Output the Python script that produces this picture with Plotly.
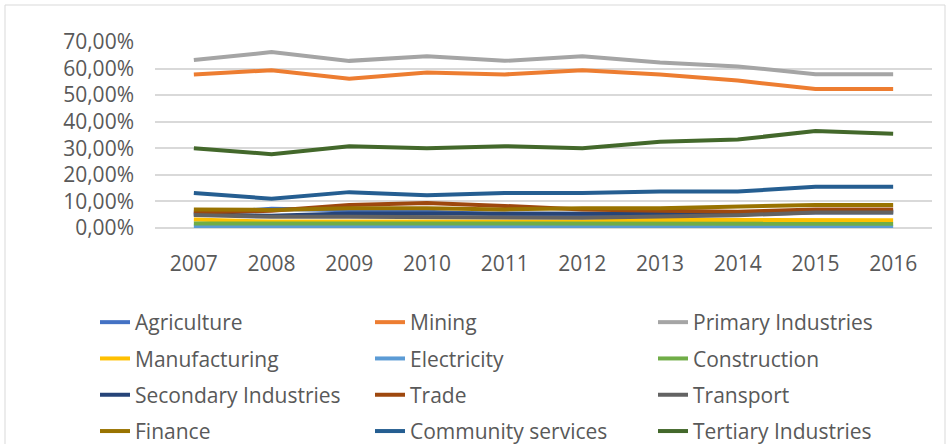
import plotly.graph_objects as go

years = ["2007", "2008", "2009", "2010", "2011", "2012", "2013", "2014", "2015", "2016"]

# Shares in percent
agriculture = [5.4, 7.2, 6.7, 6.1, 5.1, 5.2, 4.5, 5.3, 5.8, 5.8]
mining = [57.8, 59.4, 56.2, 58.5, 57.8, 59.4, 57.8, 55.5, 52.3, 52.3]
primary = [63.2, 66.2, 62.9, 64.6, 62.9, 64.6, 62.3, 60.8, 57.9, 57.9]
manufacturing = [3.2, 2.4, 2.4, 2.4, 2.4, 2.4, 3.1, 3.1, 2.9, 2.9]
electricity = [0.6, 0.5, 0.5, 0.5, 0.5, 0.5, 0.5, 0.5, 0.5, 0.5]
construction = [1.7, 1.7, 1.7, 1.7, 1.7, 1.6, 1.6, 1.6, 1.6, 1.6]
secondary = [5.2, 4.6, 5.5, 5.5, 5.5, 5.4, 5.4, 6.0, 6.2, 6.2]
trade = [5.8, 6.5, 8.7, 9.4, 8.3, 7.0, 6.5, 6.1, 7.0, 7.0]
transport = [4.9, 4.2, 4.2, 4.0, 4.0, 3.9, 4.3, 4.8, 5.8, 5.8]
finance = [7.0, 6.8, 7.4, 7.4, 7.0, 7.4, 7.4, 8.0, 8.7, 8.7]
community = [13.2, 11.0, 13.5, 12.3, 13.2, 13.2, 13.7, 13.7, 15.5, 15.5]
tertiary = [30.0, 27.8, 30.8, 30.0, 30.8, 30.0, 32.5, 33.3, 36.5, 35.5]

# (name, values, colour, legend column)
series = [
    ("Agriculture", agriculture, "#4472C4", "legend"),
    ("Mining", mining, "#ED7D31", "legend2"),
    ("Primary Industries", primary, "#A5A5A5", "legend3"),
    ("Manufacturing", manufacturing, "#FFC000", "legend"),
    ("Electricity", electricity, "#5B9BD5", "legend2"),
    ("Construction", construction, "#70AD47", "legend3"),
    ("Secondary Industries", secondary, "#264478", "legend"),
    ("Trade", trade, "#9E480E", "legend2"),
    ("Transport", transport, "#636363", "legend3"),
    ("Finance", finance, "#997300", "legend"),
    ("Community services", community, "#255E91", "legend2"),
    ("Tertiary Industries", tertiary, "#43682B", "legend3"),
]

W, H = 952, 444
L, R, T, B = 155, 20, 42, 216

fig = go.Figure()
for name, vals, color, leg in series:
    fig.add_trace(go.Scatter(
        x=years, y=[v / 100 for v in vals], name=name, mode="lines",
        line=dict(color=color, width=4),
        legend=leg, legendgroup=name,
    ))

text_color = "#595959"
font_family = "Open Sans"
fsize = 21


def column_legend(x_px):
    return dict(
        orientation="v",
        xref="container", yref="container",
        x=x_px / W, y=1 - 302 / H, xanchor="left", yanchor="top",
        font=dict(family=font_family, color=text_color, size=fsize),
        traceorder="grouped", tracegroupgap=6,
        bgcolor="rgba(0,0,0,0)",
    )


fig.update_layout(
    width=W, height=H,
    margin=dict(l=L, r=R, t=T, b=B, autoexpand=False),
    paper_bgcolor="white", plot_bgcolor="white",
    separators=", ",
    font=dict(family=font_family, color=text_color, size=fsize),
    showlegend=True,
    legend=column_legend(95),
    legend2=column_legend(370),
    legend3=column_legend(653),
    xaxis=dict(
        type="category", range=[-0.5, 9.5],
        showgrid=False, showline=False, zeroline=False,
        ticks="", ticklabelstandoff=21,
        tickfont=dict(size=fsize, color=text_color),
    ),
    yaxis=dict(
        range=[0, 0.70], dtick=0.10, tick0=0, tickformat=".2%",
        showgrid=True, gridcolor="#D9D9D9", gridwidth=1.5,
        zeroline=True, zerolinecolor="#D9D9D9", zerolinewidth=1.5,
        showline=False, ticks="", ticklabelstandoff=20,
        tickfont=dict(size=fsize, color=text_color),
    ),
)

# chart-area border
pw = W - L - R
ph = H - T - B
fig.add_shape(
    type="rect", xref="paper", yref="paper", layer="below",
    x0=(5 - L) / pw, x1=(945 - L) / pw,
    y0=(H - B - 450) / ph, y1=(H - B - 5) / ph,
    line=dict(color="#D9D9D9", width=1), fillcolor="rgba(0,0,0,0)",
)

fig.write_html("out.html")
